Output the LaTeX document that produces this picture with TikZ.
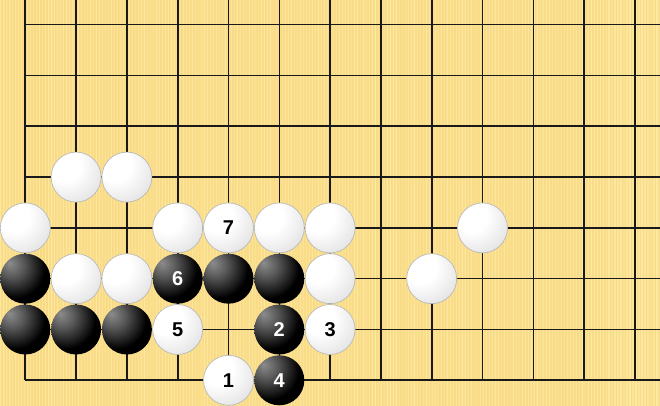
\documentclass[tikz,border=0pt]{standalone}
\usepackage{fontspec}
\setmainfont{Liberation Sans}

\definecolor{woodbase}{RGB}{250,221,138}
\definecolor{woodlight}{RGB}{255,238,170}
\definecolor{woodgrain}{RGB}{244,208,120}
\pgfdeclareradialshading{whitestone}{\pgfpoint{-14bp}{14bp}}{color(0bp)=(white); color(16bp)=(white); color(36bp)=(black!10); color(54bp)=(black!30); color(66bp)=(black!45); color(90bp)=(black!45)}
\pgfdeclareradialshading{blackstone}{\pgfpoint{-16bp}{16bp}}{color(0bp)=(black!45); color(12bp)=(black!65); color(30bp)=(black); color(50bp)=(black); color(62bp)=(black!88); color(70bp)=(black!70); color(90bp)=(black!70)}

\tikzset{
  stone/.style={circle, minimum size=37.5pt, inner sep=0pt, shade,
    font=\bfseries\fontsize{15}{16}\selectfont},
  wstone/.style={stone, shading=whitestone, draw=black!28, line width=0.5pt},
  bstone/.style={stone, shading=blackstone, text=white},
  gridline/.style={line width=1.2pt, black!90}
}

\begin{document}
\begin{tikzpicture}[x=38.1pt,y=38.1pt,yscale=-1]
\pgfmathsetseed{11}
%Shape: Board
\fill[woodbase] (-0.498,-0.486) rectangle (12.494,7.506);
\useasboundingbox (-0.498,-0.486) rectangle (12.494,7.506);
%Shape: Wood grain
\foreach \k [evaluate=\k as \op using 0.2+0.6*rnd] in {0,...,219}
  \fill[woodlight, opacity=\op] ({-0.498+\k*0.059},-0.486) rectangle ++(0.022,7.992);
\foreach \k [evaluate=\k as \op using 0.3*rnd] in {0,...,219}
  \fill[woodgrain, opacity=\op] ({-0.468+\k*0.059},-0.486) rectangle ++(0.02,7.992);

%Straight Lines: Grid
\foreach \c in {0,...,12}
  \draw[gridline] (\c,-0.486) -- (\c,7);
\foreach \r in {0,...,7}
  \draw[gridline] (0,\r) -- (12.494,\r);

%Shape: White stones
\node[wstone] (w13) at (1,3) {};
\node[wstone] (w23) at (2,3) {};
\node[wstone] (w04) at (0,4) {};
\node[wstone] (w34) at (3,4) {};
\node[wstone] (m7) at (4,4) {7};
\node[wstone] (w54) at (5,4) {};
\node[wstone] (w64) at (6,4) {};
\node[wstone] (w94) at (9,4) {};
\node[wstone] (w15) at (1,5) {};
\node[wstone] (w25) at (2,5) {};
\node[wstone] (w65) at (6,5) {};
\node[wstone] (w85) at (8,5) {};
\node[wstone] (m5) at (3,6) {5};
\node[wstone] (m3) at (6,6) {3};
\node[wstone] (m1) at (4,7) {1};

%Shape: Black stones
\node[bstone] (b05) at (0,5) {};
\node[bstone] (m6) at (3,5) {6};
\node[bstone] (b45) at (4,5) {};
\node[bstone] (b55) at (5,5) {};
\node[bstone] (b06) at (0,6) {};
\node[bstone] (b16) at (1,6) {};
\node[bstone] (b26) at (2,6) {};
\node[bstone] (m2) at (5,6) {2};
\node[bstone] (m4) at (5,7) {4};

\end{tikzpicture}
\end{document}
